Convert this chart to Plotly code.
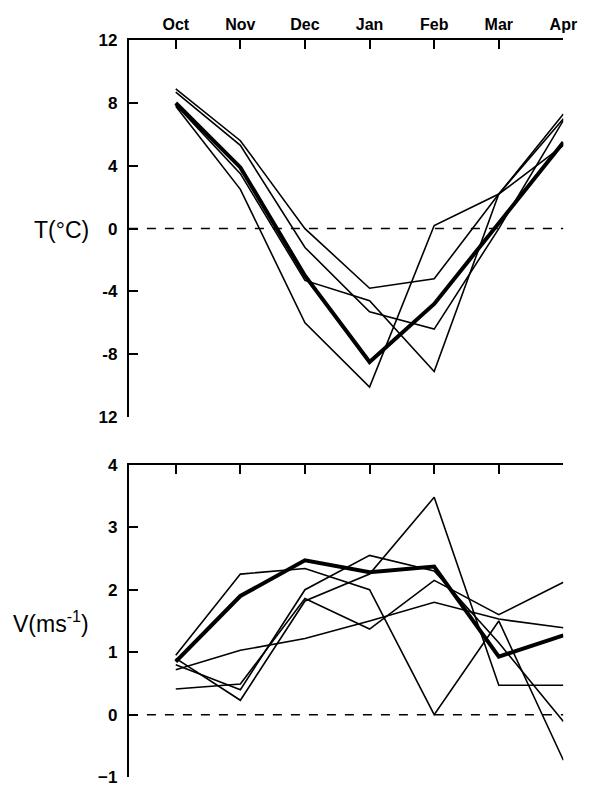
import plotly.graph_objects as go

months = ["Oct", "Nov", "Dec", "Jan", "Feb", "Mar", "Apr"]

# Temperature (deg C)
t_mean = [8.0, 3.9, -3.0, -8.5, -4.8, 0.4, 5.5]
t_a = [8.9, 5.6, 0.0, -3.8, -3.2, 2.2, 7.3]
t_b = [8.7, 5.3, -1.2, -5.3, -6.4, 0.0, 6.9]
t_c = [7.9, 3.5, -3.3, -4.6, -9.1, 2.2, 5.3]
t_d = [7.8, 2.5, -6.0, -10.1, 0.2, 2.2, 7.0]

# Wind speed (m/s)
v_mean = [0.85, 1.9, 2.47, 2.28, 2.37, 0.93, 1.27]
v_p = [0.9, 0.23, 1.82, 2.25, 3.48, 0.47, 0.47]
v_q = [0.95, 2.25, 2.34, 2.0, 0.0, 1.5, -0.73]
v_r = [0.8, 0.4, 2.0, 2.55, 2.3, 1.15, -0.11]
v_s = [0.72, 1.03, 1.22, 1.5, 1.8, 1.53, 1.39]
v_t = [0.41, 0.49, 1.86, 1.37, 2.15, 1.6, 2.12]

t_ticks = [-12, -8, -4, 0, 4, 8, 12]
t_ticktext = ["12", "-8", "-4", "0", "4", "8", "12"]
v_ticks = [-1, 0, 1, 2, 3, 4]

W, H = 594, 792
xl, xr = 132, 577
x_idx = list(range(len(months)))
px_per = (xr - 180) / 6.0
x_range = [-(180 - xl) / px_per, 6]

fig = go.Figure()

for s in [t_a, t_b, t_c, t_d]:
    fig.add_trace(go.Scatter(x=x_idx, y=s, mode="lines", xaxis="x", yaxis="y",
                             line=dict(color="black", width=1.6), showlegend=False))
fig.add_trace(go.Scatter(x=x_idx, y=t_mean, mode="lines", xaxis="x", yaxis="y",
                         line=dict(color="black", width=4), showlegend=False))

for s in [v_p, v_q, v_r, v_s, v_t]:
    fig.add_trace(go.Scatter(x=x_idx, y=s, mode="lines", xaxis="x2", yaxis="y2",
                             line=dict(color="black", width=1.6), showlegend=False))
fig.add_trace(go.Scatter(x=x_idx, y=v_mean, mode="lines", xaxis="x2", yaxis="y2",
                         line=dict(color="black", width=4), showlegend=False))

tickfont = dict(family="Liberation Sans", size=17, color="black", weight="bold")
dom_x = [xl / W, xr / W]
dom_y1 = [1 - 418 / H, 1 - 32 / H]
dom_y2 = [1 - 787 / H, 1 - 467 / H]

common_x = dict(range=x_range, domain=dom_x, side="top", showline=True, linecolor="black",
                linewidth=2, ticks="inside", ticklen=9, tickwidth=2, tickcolor="black",
                tickvals=x_idx, showgrid=False, zeroline=False, fixedrange=True)
common_y = dict(showline=True, linecolor="black", linewidth=2, ticks="inside", ticklen=9,
                tickwidth=2, tickcolor="black", showgrid=False, zeroline=False,
                tickfont=tickfont, ticklabelstandoff=6)

fig.update_layout(
    width=W, height=H, margin=dict(l=0, r=0, t=0, b=0),
    plot_bgcolor="white", paper_bgcolor="white",
    xaxis=dict(common_x, anchor="y", ticktext=months, ticklabelstandoff=2,
               tickfont=dict(family="Liberation Sans", size=16, color="black",
                             weight="bold")),
    yaxis=dict(common_y, domain=dom_y1, range=[-12, 12], tickvals=t_ticks,
               ticktext=t_ticktext, anchor="x"),
    xaxis2=dict(common_x, anchor="y2", showticklabels=False),
    yaxis2=dict(common_y, domain=dom_y2, range=[-1, 4], tickvals=v_ticks, anchor="x2"),
)

fig.add_shape(type="line", xref="x", yref="y", x0=x_range[0], x1=6, y0=0, y1=0,
              line=dict(color="black", width=1.5, dash="dash"))
fig.add_shape(type="line", xref="x2", yref="y2", x0=x_range[0], x1=6, y0=0, y1=0,
              line=dict(color="black", width=1.5, dash="dash"))

labfont = dict(family="Liberation Sans", size=23, color="black")
fig.add_annotation(text="T(°C)", xref="paper", yref="paper", x=63 / W, y=1 - 226 / H,
                   showarrow=False, font=labfont, xanchor="center", yanchor="middle")
fig.add_annotation(text="V(ms<sup>-1</sup>)", xref="paper", yref="paper", x=52 / W,
                   y=1 - 628 / H, showarrow=False, font=labfont, xanchor="center",
                   yanchor="middle")

fig.write_html("out.html")
